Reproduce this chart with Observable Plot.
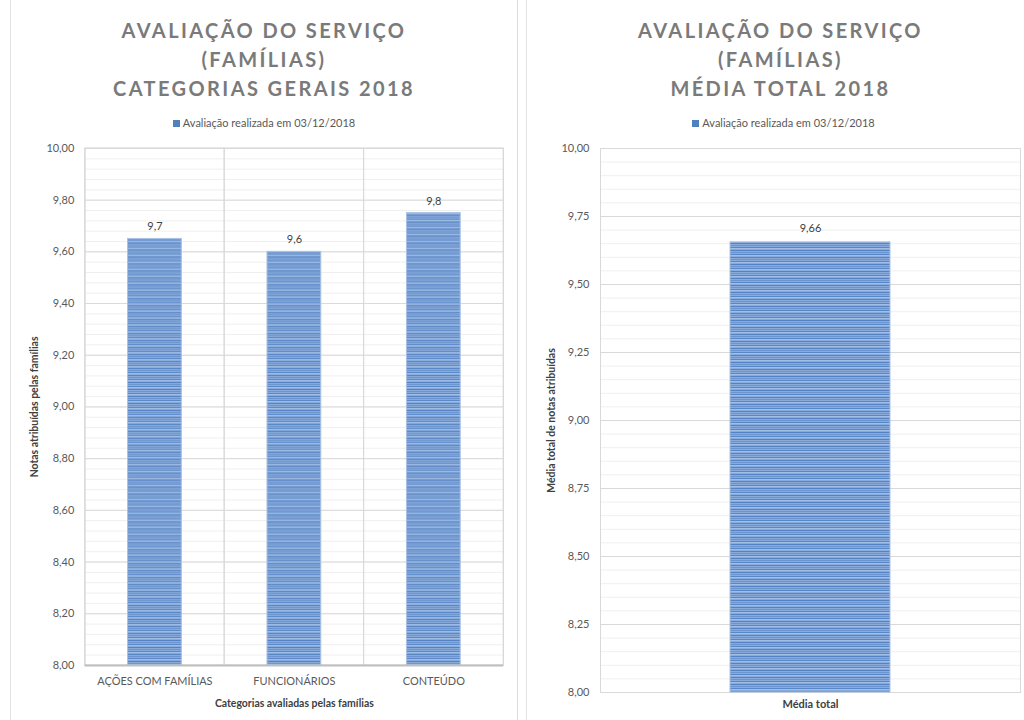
<!DOCTYPE html>
<html>
<head>
<meta charset="utf-8">
<script src="https://cdn.jsdelivr.net/npm/d3@7"></script>
<script src="https://cdn.jsdelivr.net/npm/@observablehq/plot@0.6"></script>
<style>
  html, body { margin: 0; padding: 0; background: #fff; }
  body { width: 1024px; height: 720px; position: relative; overflow: hidden; font-family: Lato, "Open Sans", sans-serif; }
  .panel { position: absolute; top: 0; height: 720px; }
  #left { left: 10px; width: 508px; border-left: 1px solid #e3e3e3; border-right: 1px solid #dcdcdc; box-sizing: border-box; }
  #right { left: 526px; width: 498px; border-left: 1px solid #e3e3e3; box-sizing: border-box; }
  .title { position: absolute; top: 16px; left: 0; width: 100%; text-align: center; font-weight: 700; font-size: 20px; line-height: 29px; letter-spacing: 2.4px; color: #7a7a7a; }
  .legend { position: absolute; top: 116px; left: 0; width: 100%; text-align: center; font-size: 11px; color: #595959; }
  .legend .sw { display: inline-block; width: 7px; height: 7px; background: #4f81bd; margin-right: 3px; vertical-align: 0px; }
  .chart { position: absolute; left: 0; top: 138px; }
</style>
</head>
<body>
<div class="panel" id="left">
  <div class="title" id="titleL"></div>
  <div class="legend" id="legendL"></div>
  <div class="chart" id="chartL"></div>
</div>
<div class="panel" id="right">
  <div class="title" id="titleR" style="padding-left:10px;box-sizing:border-box"></div>
  <div class="legend" id="legendR" style="padding-left:16px;box-sizing:border-box"></div>
  <div class="chart" id="chartR"></div>
</div>
<script>
// ---- data ----
const titleLeft = ["AVALIAÇÃO DO SERVIÇO", "(FAMÍLIAS)", "CATEGORIAS GERAIS 2018"];
const titleRight = ["AVALIAÇÃO DO SERVIÇO", "(FAMÍLIAS)", "MÉDIA TOTAL 2018"];
const seriesName = "Avaliação realizada em 03/12/2018";

const categories = ["AÇÕES COM FAMÍLIAS", "FUNCIONÁRIOS", "CONTEÚDO"];
const categoryScores = [9.65, 9.60, 9.75];
const categoryLabels = ["9,7", "9,6", "9,8"];
const leftTicks = [8.00, 8.20, 8.40, 8.60, 8.80, 9.00, 9.20, 9.40, 9.60, 9.80, 10.00];
const leftMinorStep = 0.04;

const totalCategories = ["Média total"];
const totalScores = [9.655];
const totalLabels = ["9,66"];
const rightTicks = [8.00, 8.25, 8.50, 8.75, 9.00, 9.25, 9.50, 9.75, 10.00];
const rightMinorStep = 0.05;

const yMin = 8, yMax = 10;

// ---- helpers ----
const fmt = d => d.toFixed(2).replace(".", ",");
function fillTitle(id, lines) {
  document.getElementById(id).innerHTML = lines.map(l => `<div>${l}</div>`).join("");
}
function fillLegend(id) {
  document.getElementById(id).innerHTML = `<span class="sw"></span>${seriesName}`;
}
fillTitle("titleL", titleLeft);
fillTitle("titleR", titleRight);
fillLegend("legendL");
fillLegend("legendR");

function addPattern(svg, id) {
  const ns = "http://www.w3.org/2000/svg";
  const defs = document.createElementNS(ns, "defs");
  defs.innerHTML = `
    <pattern id="${id}" patternUnits="userSpaceOnUse" width="8" height="7">
      <rect width="8" height="7" fill="#89abdb"/>
      <rect y="0" width="8" height="1" fill="#5482c4"/>
      <rect y="2" width="8" height="1" fill="#6c94ce"/>
      <rect y="4" width="8" height="1" fill="#5887c7"/>
      <rect y="5" width="8" height="1" fill="#a3bee4"/>
    </pattern>`;
  svg.insertBefore(defs, svg.firstChild);
}

function minorTicks(step) {
  const out = [];
  for (let i = 0; yMin + i * step <= yMax + 1e-9; i++) out.push(+(yMin + i * step).toFixed(4));
  return out;
}

// ---- left chart ----
const leftData = categories.map((c, i) => ({cat: c, v: categoryScores[i], label: categoryLabels[i]}));
const leftW = 508, leftH = 582;
const leftML = 74, leftMR = 14;
const leftPad = 0.615;
const leftStep = (leftW - leftML - leftMR) / categories.length;
const leftGap = leftStep * leftPad / 2;

const plotL = Plot.plot({
  width: leftW, height: leftH,
  marginLeft: leftML, marginRight: leftMR, marginTop: 10, marginBottom: 53,
  style: {fontFamily: "Lato, 'Open Sans', sans-serif", fontSize: "11px", color: "#595959", background: "transparent"},
  x: {domain: categories, paddingInner: leftPad, paddingOuter: leftPad / 2, label: null},
  y: {domain: [yMin, yMax], label: null},
  marks: [
    Plot.ruleY(minorTicks(leftMinorStep), {stroke: "#efefef", strokeWidth: 1}),
    Plot.ruleY(leftTicks, {stroke: "#d9d9d9", strokeWidth: 1}),
    Plot.barY(categories, {x: d => d, y1: yMin, y2: yMax, fill: "none", stroke: "#d9d9d9", insetLeft: -leftGap, insetRight: -leftGap}),
    Plot.frame({stroke: "#d9d9d9"}),
    Plot.barY(leftData, {x: "cat", y1: yMin, y2: "v", fill: "url(#stripesL)", stroke: "#a9c1e4", strokeWidth: 1}),
    Plot.ruleY([yMin], {stroke: "#bfbfbf", strokeWidth: 2}),
    Plot.text(leftData, {x: "cat", y: "v", text: "label", dy: -12, fill: "#404040", fontSize: 11}),
    Plot.axisY({ticks: leftTicks, tickFormat: fmt, tickSize: 0, tickPadding: 11, fill: "#595959", fontSize: 11,
      label: "Notas atribuídas pelas famílias", labelAnchor: "center", labelArrow: "none", labelOffset: 55}),
    Plot.axisX({tickSize: 0, tickPadding: 12, fill: "#595959", fontSize: 11,
      label: "Categorias avaliadas pelas famílias", labelAnchor: "center", labelArrow: "none", labelOffset: 42})
  ]
});
addPattern(plotL, "stripesL");
document.getElementById("chartL").appendChild(plotL);

// ---- right chart ----
const rightData = totalCategories.map((c, i) => ({cat: c, v: totalScores[i], label: totalLabels[i]}));
const rightW = 497, rightH = 582;
const rightML = 73, rightMR = 4;
const rightPad = 0.62;

const plotR = Plot.plot({
  width: rightW, height: rightH,
  marginLeft: rightML, marginRight: rightMR, marginTop: 10, marginBottom: 28,
  style: {fontFamily: "Lato, 'Open Sans', sans-serif", fontSize: "11px", color: "#595959", background: "transparent"},
  x: {domain: totalCategories, paddingInner: rightPad, paddingOuter: rightPad / 2, label: null},
  y: {domain: [yMin, yMax], label: null},
  marks: [
    Plot.ruleY(minorTicks(rightMinorStep), {stroke: "#efefef", strokeWidth: 1}),
    Plot.ruleY(rightTicks, {stroke: "#d9d9d9", strokeWidth: 1}),
    Plot.frame({stroke: "#d9d9d9"}),
    Plot.barY(rightData, {x: "cat", y1: yMin, y2: "v", fill: "url(#stripesR)", stroke: "#a9c1e4", strokeWidth: 1}),
    Plot.text(rightData, {x: "cat", y: "v", text: "label", dy: -14, fill: "#404040", fontSize: 11}),
    Plot.axisY({ticks: rightTicks, tickFormat: fmt, tickSize: 0, tickPadding: 11, fill: "#595959", fontSize: 11,
      label: "Média total de notas atribuídas", labelAnchor: "center", labelArrow: "none", labelOffset: 53}),
    Plot.axisX({tickSize: 0, tickPadding: 8, fill: "#404040", fontSize: 11, fontWeight: "bold", label: null})
  ]
});
addPattern(plotR, "stripesR");
document.getElementById("chartR").appendChild(plotR);

// style axis labels (bold, darker)
for (const svg of [plotL, plotR]) {
  svg.querySelectorAll("g[aria-label='y-axis label'] text, g[aria-label='x-axis label'] text").forEach(t => {
    t.setAttribute("font-weight", "bold");
    t.setAttribute("fill", "#404040");
    t.setAttribute("font-size", "10.5");
  });
}
</script>
</body>
</html>
